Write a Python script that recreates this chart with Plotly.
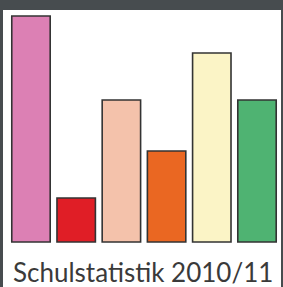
import plotly.graph_objects as go

categories = ["A", "B", "C", "D", "E", "F"]
values = [226, 44, 142, 91, 189, 142]
colors = ["#dc80b4", "#e01e26", "#f4c2ab", "#ea6722", "#fbf4c6", "#4fb372"]
title_text = "Schulstatistik 2010/11"

fig = go.Figure()
fig.add_trace(go.Bar(
    x=list(range(len(categories))),
    y=values,
    marker=dict(color=colors, line=dict(color="#333333", width=1.6)),
    width=0.85,
    hoverinfo="skip",
))

fig.update_layout(
    width=283, height=287,
    margin=dict(l=3, r=2, t=10, b=0, pad=0),
    paper_bgcolor="#474c4f",
    plot_bgcolor="#ffffff",
    showlegend=False,
    xaxis=dict(range=[-0.619, 5.531], visible=False, fixedrange=True),
    yaxis=dict(range=[-45, 232], visible=False, fixedrange=True),
    annotations=[dict(
        text=title_text, xref="paper", yref="paper",
        x=0.028, y=0.0, xanchor="left", yanchor="bottom", yshift=-3,
        showarrow=False,
        font=dict(family="Lato", size=26, color="#3a3a3a"),
    )],
)

fig.write_html(
    "out.html",
    config={"displayModeBar": False},
    post_script="document.body.style.margin='0';document.body.style.overflow='hidden';",
)
